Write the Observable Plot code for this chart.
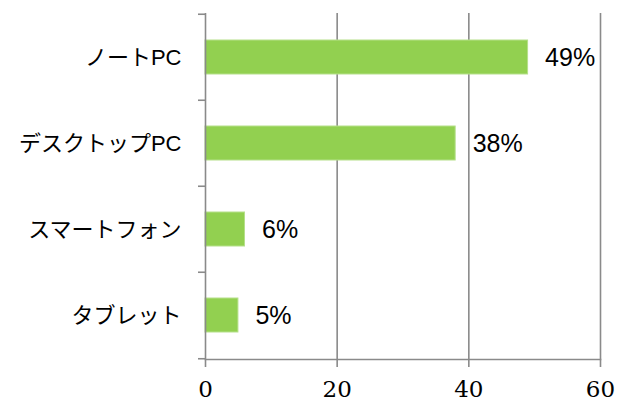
<!DOCTYPE html>
<html>
<head>
<meta charset="utf-8">
<script src="https://cdn.jsdelivr.net/npm/d3@7"></script>
<script src="https://cdn.jsdelivr.net/npm/@observablehq/plot@0.6"></script>
<style>
  html, body { margin: 0; padding: 0; background: #fff; }
  #chart svg { display: block; }
</style>
</head>
<body>
<div id="chart"></div>
<script>
const categories = ["ノートPC", "デスクトップPC", "スマートフォン", "タブレット"];
const shares = [49, 38, 6, 5];
const xTicks = [0, 20, 40, 60];
const gridTicks = [20, 40, 60];

const data = categories.map((c, i) => ({category: c, value: shares[i]}));

const width = 629, height = 403;
const marginTop = 13, marginBottom = 44, marginLeft = 205, marginRight = 29;
const step = (height - marginTop - marginBottom) / categories.length;
const axisColor = "#8a8a8a";

const plot = Plot.plot({
  width, height, marginTop, marginBottom, marginLeft, marginRight,
  style: {background: "#fff", overflow: "visible", fontFamily: "'Liberation Sans', 'Noto Sans CJK JP', sans-serif"},
  x: {domain: [0, 60], label: null},
  y: {domain: categories, paddingInner: 0.6, paddingOuter: 0.3, label: null},
  marks: [
    Plot.ruleX(gridTicks, {stroke: axisColor, strokeWidth: 1.6}),
    Plot.barX(data, {x: "value", y: "category", fill: "#92d050", stroke: "#b5e08a", strokeWidth: 1}),
    Plot.ruleX([0], {stroke: axisColor, strokeWidth: 1.6}),
    Plot.frame({anchor: "bottom", stroke: axisColor, strokeWidth: 1.6}),
    // category boundary ticks on the y axis
    Plot.axisY({ticks: categories, tickSize: 7, text: null, label: null, dy: -step / 2, stroke: axisColor, strokeWidth: 1.6}),
    Plot.axisY({ticks: categories.slice(-1), tickSize: 7, text: null, label: null, dy: step / 2, stroke: axisColor, strokeWidth: 1.6}),
    // category labels
    Plot.axisY({tickSize: 0, tickPadding: 24, fontSize: 22, fill: "#000", label: null}),
    // x axis ticks
    Plot.axisX({ticks: xTicks, tickSize: 8, text: null, stroke: axisColor, strokeWidth: 1.6, label: null}),
    // x axis labels (serif)
    Plot.text(xTicks, {x: d => d, frameAnchor: "bottom", lineAnchor: "top", dy: 21, text: d => String(d), fontSize: 23, fontFamily: "'DejaVu Serif', 'Liberation Serif', Georgia, serif", fill: "#000"}),
    // value labels
    Plot.text(data, {x: "value", y: "category", text: d => d.value + "%", textAnchor: "start", dx: 17, fontSize: 25, fill: "#000"})
  ]
});
document.getElementById("chart").append(plot);
</script>
</body>
</html>
